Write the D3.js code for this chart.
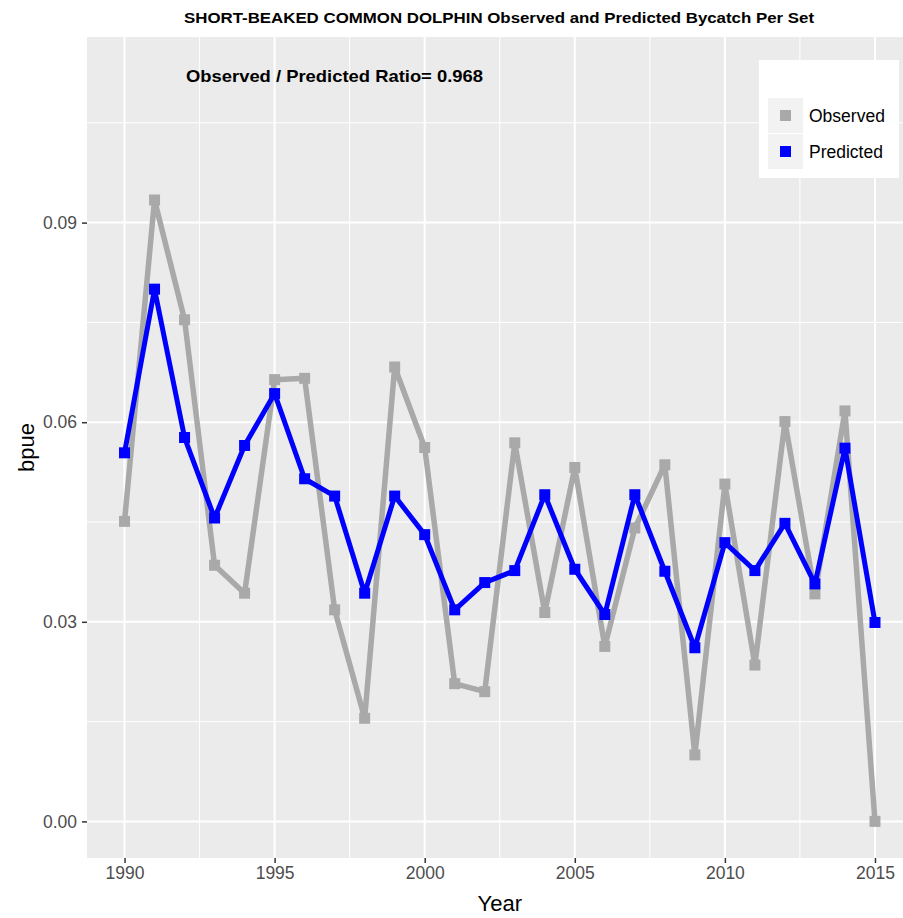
<!DOCTYPE html>
<html>
<head>
<meta charset="utf-8">
<script src="https://cdn.jsdelivr.net/npm/d3@7"></script>
<style>
  html, body { margin: 0; padding: 0; background: #ffffff; }
  svg { display: block; font-family: "Liberation Sans", Arial, sans-serif; }
</style>
</head>
<body>
<svg id="chart" width="903" height="918"></svg>
<script>
const years = [1990,1991,1992,1993,1994,1995,1996,1997,1998,1999,2000,2001,2002,2003,2004,2005,2006,2007,2008,2009,2010,2011,2012,2013,2014,2015];
const observed = [0.0451,0.0934,0.0754,0.0385,0.0343,0.0664,0.0666,0.0318,0.0155,0.0683,0.0562,0.0207,0.0195,0.0569,0.0314,0.0532,0.0263,0.0441,0.0536,0.0100,0.0507,0.0235,0.0601,0.0342,0.0617,0.0000];
const predicted = [0.0554,0.0800,0.0577,0.0456,0.0565,0.0643,0.0515,0.0489,0.0343,0.0489,0.0431,0.0318,0.0359,0.0377,0.0491,0.0379,0.0311,0.0491,0.0376,0.0261,0.0419,0.0377,0.0448,0.0357,0.0561,0.0299];
const xTicks = [1990,1995,2000,2005,2010,2015];
const xMinor = [1992.5,1997.5,2002.5,2007.5,2012.5];
const yTicks = [0.00,0.03,0.06,0.09];
const yMinor = [0.015,0.045,0.075,0.105];
const seriesNames = ["Observed","Predicted"];
const seriesColors = ["#A9A9A9","#0000FF"];
const titleText = "SHORT-BEAKED COMMON DOLPHIN Observed and Predicted Bycatch Per Set";
const ratioText = "Observed / Predicted Ratio= 0.968";

const svg = d3.select("#chart");
const P = {left: 87, right: 912.5, top: 37, bottom: 858};

const x = d3.scaleLinear().domain([1988.75, 2016.25]).range([P.left, P.right]);
const y = d3.scaleLinear().domain([-0.0055, 0.1179]).range([P.bottom, P.top]);

// panel
svg.append("rect").attr("x", P.left).attr("y", P.top)
  .attr("width", P.right - P.left).attr("height", P.bottom - P.top)
  .attr("fill", "#EBEBEB");

const grid = svg.append("g");
grid.selectAll("line.ymin").data(yMinor).enter().append("line")
  .attr("x1", P.left).attr("x2", P.right).attr("y1", d => y(d)).attr("y2", d => y(d))
  .attr("stroke", "#ffffff").attr("stroke-width", 1);
grid.selectAll("line.xmin").data(xMinor).enter().append("line")
  .attr("y1", P.top).attr("y2", P.bottom).attr("x1", d => x(d)).attr("x2", d => x(d))
  .attr("stroke", "#ffffff").attr("stroke-width", 1);
grid.selectAll("line.ymaj").data(yTicks).enter().append("line")
  .attr("x1", P.left).attr("x2", P.right).attr("y1", d => y(d)).attr("y2", d => y(d))
  .attr("stroke", "#ffffff").attr("stroke-width", 2);
grid.selectAll("line.xmaj").data(xTicks).enter().append("line")
  .attr("y1", P.top).attr("y2", P.bottom).attr("x1", d => x(d)).attr("x2", d => x(d))
  .attr("stroke", "#ffffff").attr("stroke-width", 2);

// axes
const xAxis = d3.axisBottom(x).tickValues(xTicks).tickFormat(d3.format("d")).tickSize(5).tickPadding(4);
const gx = svg.append("g").attr("transform", `translate(0,${P.bottom})`).call(xAxis);
gx.select(".domain").remove();
gx.selectAll(".tick line").attr("stroke", "#333333").attr("stroke-width", 1.5);
gx.selectAll(".tick text").attr("fill", "#4D4D4D").attr("font-size", 17.5)
  .attr("font-family", "Liberation Sans, Arial, sans-serif");

const yAxis = d3.axisLeft(y).tickValues(yTicks).tickFormat(d3.format(".2f")).tickSize(5).tickPadding(5);
const gy = svg.append("g").attr("transform", `translate(${P.left},0)`).call(yAxis);
gy.select(".domain").remove();
gy.selectAll(".tick line").attr("stroke", "#333333").attr("stroke-width", 1.5);
gy.selectAll(".tick text").attr("fill", "#4D4D4D").attr("font-size", 17.5)
  .attr("font-family", "Liberation Sans, Arial, sans-serif");

// lines and points
const seriesData = [observed, predicted];
const line = d3.line().x((d, i) => x(years[i])).y(d => y(d));
const clip = svg.append("clipPath").attr("id", "pclip").append("rect")
  .attr("x", P.left).attr("y", P.top).attr("width", P.right - P.left).attr("height", P.bottom - P.top);
const plot = svg.append("g").attr("clip-path", "url(#pclip)");
const sq = 11;
seriesData.forEach((vals, s) => {
  plot.append("path").datum(vals).attr("d", line)
    .attr("fill", "none").attr("stroke", seriesColors[s])
    .attr("stroke-width", s === 0 ? 5.5 : 5).attr("stroke-linejoin", "round");
  plot.selectAll(null).data(vals).enter().append("rect")
    .attr("x", (d, i) => x(years[i]) - sq / 2).attr("y", d => y(d) - sq / 2)
    .attr("width", sq).attr("height", sq).attr("fill", seriesColors[s]);
});

// annotation
svg.append("text").attr("x", 186).attr("y", 82)
  .attr("font-size", 17).attr("font-weight", "bold").attr("fill", "#000")
  .attr("textLength", 297).attr("lengthAdjust", "spacingAndGlyphs")
  .text(ratioText);

// title
svg.append("text").attr("x", 184).attr("y", 23)
  .attr("font-size", 14.5).attr("font-weight", "bold").attr("fill", "#000")
  .attr("textLength", 630).attr("lengthAdjust", "spacingAndGlyphs")
  .text(titleText);

// axis titles
svg.append("text").attr("x", (P.left + P.right) / 2).attr("y", 911)
  .attr("text-anchor", "middle").attr("font-size", 22).attr("fill", "#000").text("Year");
svg.append("text").attr("transform", `translate(34,${(P.top + P.bottom) / 2}) rotate(-90)`)
  .attr("text-anchor", "middle").attr("font-size", 22).attr("fill", "#000").text("bpue");

// legend
const lg = svg.append("g");
lg.append("rect").attr("x", 759).attr("y", 60).attr("width", 140).attr("height", 118).attr("fill", "#ffffff");
seriesNames.forEach((name, i) => {
  const ky = 98 + i * 36;
  lg.append("rect").attr("x", 768).attr("y", ky).attr("width", 35).attr("height", 35).attr("fill", "#F2F2F2");
  lg.append("rect").attr("x", 785.5 - sq / 2).attr("y", ky + 17.5 - sq / 2).attr("width", sq).attr("height", sq)
    .attr("fill", seriesColors[i]);
  lg.append("text").attr("x", 809).attr("y", ky + 17.5).attr("dy", "0.35em")
    .attr("font-size", 17.5).attr("fill", "#000").text(name);
});
</script>
</body>
</html>
